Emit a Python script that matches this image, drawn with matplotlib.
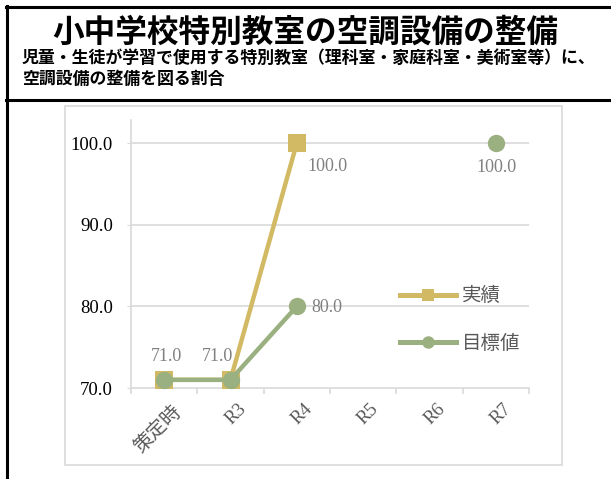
import matplotlib
matplotlib.use("Agg")
import matplotlib.pyplot as plt
import matplotlib.transforms as mtransforms
from matplotlib.lines import Line2D
from matplotlib.patches import Rectangle
import numpy as np

plt.rcParams['font.family'] = ['Noto Sans CJK JP', 'DejaVu Sans']

# ---- data ----
categories = ["策定時", "R3", "R4", "R5", "R6", "R7"]
actual = [71.0, 71.0, 100.0, None, None, None]      # 実績
target = [71.0, 71.0, 80.0, None, None, 100.0]      # 目標値
y_ticks = [70.0, 80.0, 90.0, 100.0]

title = "小中学校特別教室の空調設備の整備"
subtitle1 = "児童・生徒が学習で使用する特別教室（理科室・家庭科室・美術室等）に、"
subtitle2 = "空調設備の整備を図る割合"

GOLD = "#D2BA64"
GREEN = "#9BB080"
GRID = "#D9D9D9"
LABEL_GRAY = "#808080"
TICK_GRAY = "#595959"
SERIF = ["Liberation Serif", "DejaVu Serif"]

W, H = 611, 479
fig = plt.figure(figsize=(W / 100, H / 100), dpi=100)


def fx(px):
    return px / W


def fy(py):
    return 1 - py / H


# ---- header frame ----
fig.add_artist(Line2D([fx(6), 1], [fy(7), fy(7)], color="black", lw=2.2))
fig.add_artist(Line2D([fx(7), fx(7)], [fy(6), 0], color="black", lw=2.2))
fig.add_artist(Line2D([fx(6), 1], [fy(100), fy(100)], color="black", lw=2.2))

fig.text(0.5, fy(33), title, ha="center", va="center", fontsize=22.8,
         fontweight="bold", color="black")
fig.text(fx(22), fy(58), subtitle1, ha="left", va="center", fontsize=12.2,
         fontweight="bold", color="black")
fig.text(fx(22), fy(79), subtitle2, ha="left", va="center", fontsize=12.2,
         fontweight="bold", color="black")

# chart area border
fig.add_artist(Rectangle((fx(65), fy(465)), fx(562) - fx(65), fy(106) - fy(465),
                         transform=fig.transFigure, fill=False,
                         edgecolor=GRID, lw=1.2))

# ---- plot area ----
y_top_px, y70_px, y100_px = 120, 388, 143
units_per_px = 30 / (y70_px - y100_px)
ymax = 100 + (y100_px - y_top_px) * units_per_px
ax = fig.add_axes([fx(131), fy(y70_px), fx(529) - fx(131), fy(y_top_px) - fy(y70_px)])
ax.set_xlim(-0.5, len(categories) - 0.5)
ax.set_ylim(70, ymax)

for s in ["top", "right"]:
    ax.spines[s].set_visible(False)
for s in ["left", "bottom"]:
    ax.spines[s].set_color(GRID)
    ax.spines[s].set_linewidth(1.2)

ax.set_yticks(y_ticks)
ax.set_yticklabels([f"{v:.1f}" for v in y_ticks], fontfamily=SERIF,
                   fontsize=13.5, color="black")
ax.tick_params(axis="y", length=3, color=GRID, pad=10)
for v in y_ticks[1:]:
    ax.axhline(v, color=GRID, lw=1.2, zorder=0)

x = np.arange(len(categories))
ax.set_xticks(x)
ax.set_xticks(np.arange(-0.5, len(categories), 1.0), minor=True)
ax.tick_params(axis="x", which="major", length=0, pad=9)
ax.tick_params(axis="x", which="minor", length=4, color=GRID, width=1.2)
labels = ax.set_xticklabels(categories, rotation=45, ha="right",
                            rotation_mode="anchor", fontsize=13.5, color=TICK_GRAY)
shift = mtransforms.ScaledTranslation(7 / 100, 0, fig.dpi_scale_trans)
for lab in labels:
    if lab.get_text().startswith("R"):
        lab.set_fontfamily(SERIF)
    else:
        lab.set_fontsize(14)
    lab.set_transform(lab.get_transform() + shift)


def to_arr(vals):
    return np.array([np.nan if v is None else v for v in vals], dtype=float)


a = to_arr(actual)
t = to_arr(target)
ax.plot(x, a, color=GOLD, lw=3.2, marker="s", markersize=12.5,
        markeredgewidth=0, zorder=3, clip_on=False)
ax.plot(x, t, color=GREEN, lw=3.2, marker="o", markersize=12.5,
        markeredgewidth=0, zorder=4, clip_on=False)

# ---- data labels ----
label_kw = dict(textcoords="offset pixels", fontfamily=SERIF, fontsize=13,
                color=LABEL_GRAY, zorder=5)
ax.annotate(f"{t[0]:.1f}", (x[0], t[0]), xytext=(2, 23), ha="center", va="center", **label_kw)
ax.annotate(f"{t[1]:.1f}", (x[1], t[1]), xytext=(-13, 23), ha="center", va="center", **label_kw)
ax.annotate(f"{a[2]:.1f}", (x[2], a[2]), xytext=(11, -23), ha="left", va="center", **label_kw)
ax.annotate(f"{t[2]:.1f}", (x[2], t[2]), xytext=(15, -1), ha="left", va="center", **label_kw)
ax.annotate(f"{t[5]:.1f}", (x[5], t[5]), xytext=(1, -24), ha="center", va="center", **label_kw)

# ---- legend ----
handles = [
    Line2D([], [], color=GOLD, lw=3.6, marker="s", markersize=9, markeredgewidth=0),
    Line2D([], [], color=GREEN, lw=3.6, marker="o", markersize=9, markeredgewidth=0),
]
leg = ax.legend(handles, ["実績", "目標値"], loc="center left",
                bbox_to_anchor=((400 - 131) / 398, (388 - 319.5) / (388 - 120)),
                frameon=False, fontsize=14, handlelength=2.9, handletextpad=0.3,
                labelspacing=1.35, borderpad=0, borderaxespad=0)
for txt in leg.get_texts():
    txt.set_color(TICK_GRAY)

fig.savefig("out.png", dpi=100)
